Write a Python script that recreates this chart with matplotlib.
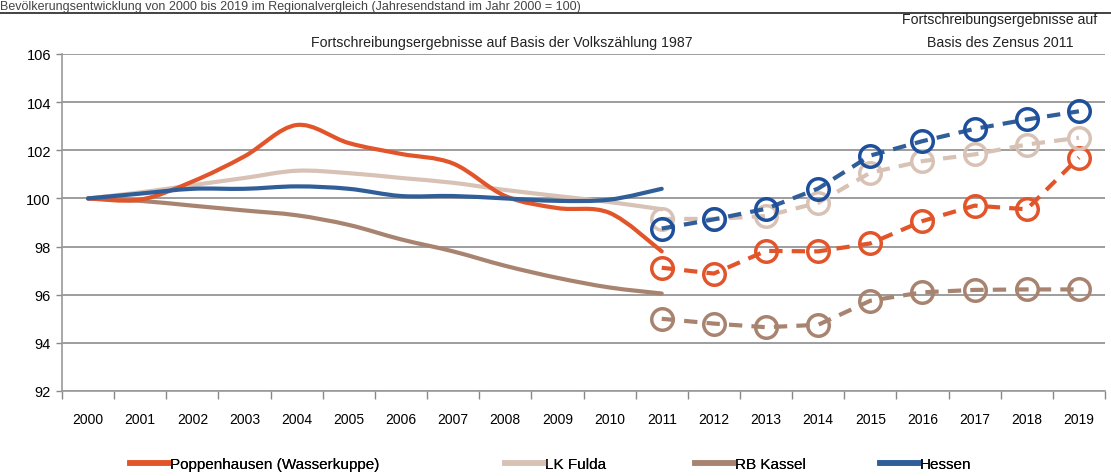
import numpy as np
import matplotlib.pyplot as plt
from matplotlib.path import Path
from matplotlib.patches import PathPatch
from matplotlib.lines import Line2D

plt.rcParams['font.family'] = ['Liberation Sans', 'DejaVu Sans']

# Data
years = [str(y) for y in range(2000, 2020)]
years_old = list(range(0, 12))    # 2000..2011, Volkszaehlung 1987
years_new = list(range(11, 20))   # 2011..2019, Zensus 2011

popp_old = [100.0, 99.95, 100.7, 101.75, 103.05, 102.3, 101.85, 101.45, 100.1, 99.6, 99.4, 97.8]
fulda_old = [100.0, 100.25, 100.55, 100.85, 101.15, 101.05, 100.85, 100.65, 100.35, 100.1, 99.85, 99.55]
kassel_old = [100.0, 99.9, 99.7, 99.5, 99.3, 98.9, 98.3, 97.8, 97.2, 96.7, 96.3, 96.05]
hessen_old = [100.0, 100.2, 100.4, 100.4, 100.5, 100.4, 100.1, 100.1, 100.0, 99.9, 99.95, 100.4]

popp_new = [97.12, 96.88, 97.82, 97.8, 98.13, 99.06, 99.7, 99.55, 101.7]
fulda_new = [99.15, 99.15, 99.27, 99.82, 101.07, 101.55, 101.83, 102.24, 102.52]
kassel_new = [95.0, 94.8, 94.65, 94.75, 95.75, 96.1, 96.2, 96.22, 96.22]
hessen_new = [98.75, 99.13, 99.57, 100.41, 101.78, 102.38, 102.89, 103.28, 103.62]

names = ['Poppenhausen (Wasserkuppe)', 'LK Fulda', 'RB Kassel', 'Hessen']
colors = ['#E2552B', '#D8C2B6', '#A88470', '#2F5E99']
marker_colors = ['#E2552B', '#D8C2B6', '#A88470', '#1D4F9C']

fig = plt.figure(figsize=(11.11, 4.77), dpi=100)
W, H = 1111, 477
ax = fig.add_axes([62 / W, 1 - 392 / H, (1105 - 62) / W, (392 - 55) / H])


def smooth_line(ax, x, y, color, lw):
    # catmull-rom style smoothing like the excel "smoothed line" option
    pts = np.column_stack([x, y]).astype(float)
    ext = np.vstack([pts[0], pts, pts[-1]])
    verts = [pts[0]]
    codes = [Path.MOVETO]
    for i in range(1, len(ext) - 2):
        p0, p1, p2, p3 = ext[i - 1], ext[i], ext[i + 1], ext[i + 2]
        verts += [p1 + (p2 - p0) / 6, p2 - (p3 - p1) / 6, p2]
        codes += [Path.CURVE4] * 3
    ax.add_patch(PathPatch(Path(verts, codes), fill=False, edgecolor=color,
                           lw=lw, capstyle='round', joinstyle='round', zorder=3))


old_series = [popp_old, fulda_old, kassel_old, hessen_old]
new_series = [popp_new, fulda_new, kassel_new, hessen_new]

for i in [2, 1, 0, 3]:
    smooth_line(ax, years_old, old_series[i], colors[i], 3.0)

for i in [2, 0, 1, 3]:
    ax.plot(years_new, new_series[i], color=colors[i], lw=3.0, dashes=(3.2, 2.2),
            marker='o', markersize=15.5, markerfacecolor='none',
            markeredgecolor=marker_colors[i], markeredgewidth=2.5, zorder=4)

ax.set_xlim(-0.5, 19.5)
ax.set_ylim(92, 106)
ax.set_yticks(range(92, 107, 2))
ax.set_xticks(range(20))
ax.set_xticklabels(years)
ax.set_xticks(np.arange(-0.5, 20, 1), minor=True)
ax.tick_params(axis='x', which='major', length=0, pad=15, labelsize=10)
ax.tick_params(axis='x', which='minor', length=6, width=1, color='#888888', direction='out')
ax.tick_params(axis='y', length=4, width=1, color='#888888', labelsize=10.5, pad=4)
ax.grid(axis='y', color='#8c8c8c', lw=1.2)
ax.set_axisbelow(True)
for s in ['top', 'right']:
    ax.spines[s].set_visible(False)
for s in ['left', 'bottom']:
    ax.spines[s].set_color('#999999')
    ax.spines[s].set_linewidth(1.2)

# Headings
fig.text(0.0, 1 - 1 / H, 'Bevölkerungsentwicklung von 2000 bis 2019 im Regionalvergleich (Jahresendstand im Jahr 2000 = 100)',
         fontsize=9, color='#444444', ha='left', va='top')
fig.add_artist(Line2D([0, 1], [1 - 14 / H, 1 - 14 / H], color='#222222', lw=1.2))
fig.text(502 / W, 1 - 43 / H, 'Fortschreibungsergebnisse auf Basis der Volkszählung 1987',
         fontsize=10.2, ha='center', va='center', color='#222222')
fig.text(1000 / W, 1 - 20 / H, 'Fortschreibungsergebnisse auf', fontsize=10.2,
         ha='center', va='center', color='#222222')
fig.text(1000 / W, 1 - 43 / H, 'Basis des Zensus 2011', fontsize=10.2,
         ha='center', va='center', color='#222222')

# Legend, one entry per position like the original
legend_x = [125, 500, 690, 875]
for i in range(4):
    h = Line2D([], [], color=colors[i], lw=4)
    leg = fig.legend([h], [names[i]], loc='center left',
                     bbox_to_anchor=(legend_x[i] / W - 0.008, 1 - 465 / H),
                     frameon=False, fontsize=11, handlelength=2.6, handletextpad=0.0)
    fig.add_artist(leg)

fig.savefig('out.png', dpi=100)
